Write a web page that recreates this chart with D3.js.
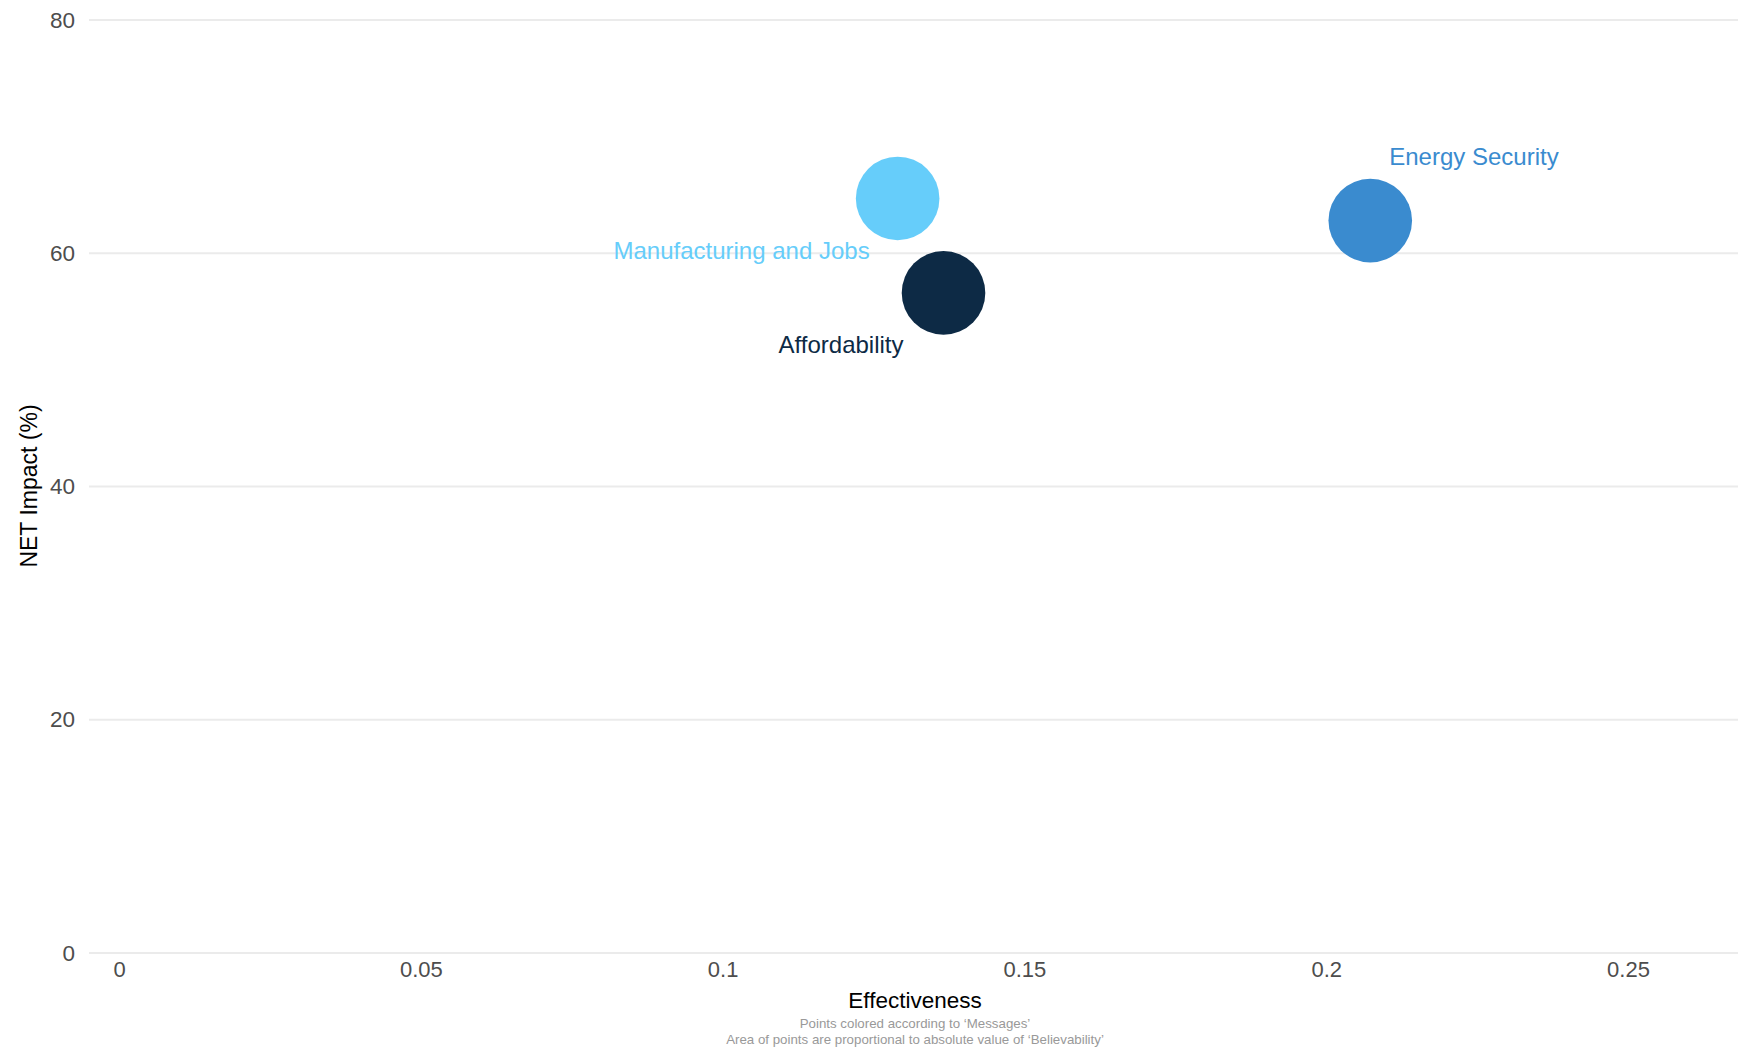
<!DOCTYPE html>
<html>
<head>
<meta charset="utf-8">
<script src="https://cdn.jsdelivr.net/npm/d3@7"></script>
<style>
  html, body { margin: 0; padding: 0; background: #fff; }
  svg { display: block; font-family: "Liberation Sans", Arial, sans-serif; }
</style>
</head>
<body>
<svg id="chart" width="1738" height="1053"></svg>
<script>
// ---- data ----
const messages = ["Manufacturing and Jobs", "Affordability", "Energy Security"];
const effectiveness = [0.129, 0.1366, 0.2073];
const netImpact = [64.7, 56.6, 62.8];
const believability = [0.50, 0.50, 0.50];
const colors = ["#66CDFA", "#0D2A45", "#3A8BCF"];
const xTicks = [0, 0.05, 0.1, 0.15, 0.2, 0.25];
const yTicks = [0, 20, 40, 60, 80];
const xTitle = "Effectiveness";
const yTitle = "NET Impact (%)";
const notes = ["Points colored according to \u2018Messages\u2019",
               "Area of points are proportional to absolute value of \u2018Believability\u2019"];

// ---- layout ----
const svg = d3.select("#chart");
const plotLeft = 89, plotRight = 1738;

const x = d3.scaleLinear().domain([0, 0.25]).range([119, 1628]);
const y = d3.scaleLinear().domain([0, 80]).range([953, 20]);
const r = d3.scaleSqrt().domain([0, 0.5]).range([0, 41.8]);

// gridlines
svg.append("g").selectAll("line").data(yTicks).join("line")
  .attr("x1", plotLeft).attr("x2", plotRight)
  .attr("y1", d => y(d)).attr("y2", d => y(d))
  .attr("stroke", "#ebebeb").attr("stroke-width", 2);

// y axis labels
const yAxis = d3.axisLeft(y).tickValues(yTicks).tickSize(0).tickPadding(0).tickFormat(d3.format("d"));
const gy = svg.append("g").attr("transform", `translate(75,0)`).call(yAxis);
gy.select(".domain").remove();
gy.selectAll("text").attr("font-size", 22.5).attr("fill", "#4d4d4d")
  .attr("font-family", "Liberation Sans, Arial, sans-serif");

// x axis labels
const xAxis = d3.axisBottom(x).tickValues(xTicks).tickSize(0).tickPadding(0).tickFormat(d => String(d));
const gx = svg.append("g").attr("transform", `translate(0,961)`).call(xAxis);
gx.select(".domain").remove();
gx.selectAll("text").attr("font-size", 22).attr("fill", "#4d4d4d")
  .attr("font-family", "Liberation Sans, Arial, sans-serif");

// points
const idx = d3.range(messages.length);
svg.append("g").selectAll("circle").data(idx).join("circle")
  .attr("cx", i => x(effectiveness[i]))
  .attr("cy", i => y(netImpact[i]))
  .attr("r", i => r(Math.abs(believability[i])))
  .attr("fill", i => colors[i]);

// labels (repel-style offsets)
const labelOffsets = [
  {dx: -28, dy: 61, anchor: "end"},
  {dx: -40, dy: 60, anchor: "end"},
  {dx: 19, dy: -56, anchor: "start"}
];
svg.append("g").selectAll("text").data(idx).join("text")
  .attr("x", i => x(effectiveness[i]) + labelOffsets[i].dx)
  .attr("y", i => y(netImpact[i]) + labelOffsets[i].dy)
  .attr("text-anchor", i => labelOffsets[i].anchor)
  .attr("font-size", 24)
  .attr("fill", i => colors[i])
  .text(i => messages[i]);

// axis titles
svg.append("text").attr("x", 915).attr("y", 1008).attr("text-anchor", "middle")
  .attr("font-size", 22.5).attr("fill", "#000").text(xTitle);
svg.append("text").attr("transform", "translate(37,486) rotate(-90)").attr("text-anchor", "middle")
  .attr("font-size", 23).attr("fill", "#000").text(yTitle);

// notes
svg.append("g").selectAll("text").data(notes).join("text")
  .attr("x", 915).attr("y", (d, i) => 1028 + i * 15.5)
  .attr("text-anchor", "middle").attr("font-size", 13.3).attr("fill", "#999")
  .text(d => d);
</script>
</body>
</html>
